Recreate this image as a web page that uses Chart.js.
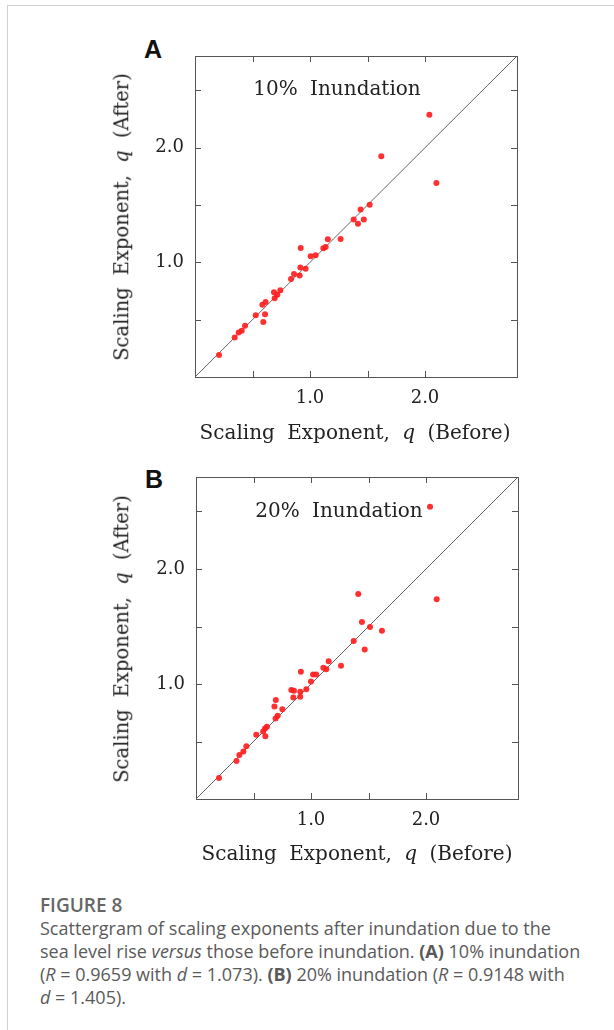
<!DOCTYPE html>
<html>
<head>
<meta charset="utf-8">
<script src="https://cdn.jsdelivr.net/npm/chart.js@4"></script>
<style>
  html, body { margin: 0; padding: 0; background: #fff; }
  #page { position: relative; width: 614px; height: 1030px; overflow: hidden; }
  #frame { position: absolute; left: 7px; top: 5px; width: 640px; height: 1100px;
           border-left: 1.5px solid #d0d0d0; border-top: 1.5px solid #d0d0d0; }
  canvas { position: absolute; left: 0; }
  .panel-tag { position: absolute; font-family: "Liberation Sans", Arial, sans-serif;
               font-weight: bold; font-size: 25px; color: #111; line-height: 1; }
  .serif { position: absolute; font-family: "DejaVu Serif", serif; color: #222;
           white-space: nowrap; line-height: 1; }
  .xtitle { font-size: 20px; word-spacing: 6px; transform: translate(-50%, -50%); }
  .ytitle { font-size: 19.5px; word-spacing: 6px; transform: translate(-50%, -50%) rotate(-90deg); }
  .inset { font-size: 20px; word-spacing: 6px; transform: translate(-50%, -50%); }
  #caption { position: absolute; left: 40px; top: 894px; width: 574px;
             font-family: "Open Sans", "Noto Sans", sans-serif; color: #5a5a5a;
             font-size: 18px; line-height: 23px; white-space: nowrap; }
  #caption .fig { font-weight: 600; font-size: 19px; color: #666; }
</style>
</head>
<body>
<div id="page">
  <div id="frame"></div>

  <div class="panel-tag" style="left:144px; top:37px;">A</div>
  <canvas id="chartA" width="614" height="460" style="top:0"></canvas>
  <div class="serif inset" style="left:337px; top:88px;">10% Inundation</div>
  <div class="serif ytitle" style="left:122px; top:217px;">Scaling Exponent, <i>q</i> (After)</div>
  <div class="serif xtitle" style="left:355px; top:432px;">Scaling Exponent, <i>q</i> (Before)</div>

  <div class="panel-tag" style="left:145px; top:467px;">B</div>
  <canvas id="chartB" width="614" height="440" style="top:440px"></canvas>
  <div class="serif inset" style="left:339px; top:510px;">20% Inundation</div>
  <div class="serif ytitle" style="left:122px; top:639px;">Scaling Exponent, <i>q</i> (After)</div>
  <div class="serif xtitle" style="left:357px; top:853px;">Scaling Exponent, <i>q</i> (Before)</div>

  <div id="caption">
    <div class="fig">FIGURE 8</div>
    Scattergram of scaling exponents after inundation due to the<br>
    sea level rise <i>versus</i> those before inundation. <b>(A)</b> 10% inundation<br>
    (<i>R</i> = 0.9659 with <i>d</i> = 1.073). <b>(B)</b> 20% inundation (<i>R</i> = 0.9148 with<br>
    <i>d</i> = 1.405).
  </div>
</div>

<script>
// =========================================================
// DADOS
// =========================================================

// Painel A - 10% de inundação
const antesA = [0.209, 0.345, 0.38, 0.406, 0.435, 0.528, 0.586, 0.614, 0.609, 0.594,
                0.687, 0.716, 0.693, 0.742, 0.835, 0.861, 0.91, 0.916, 0.919, 0.962,
                1.006, 1.049, 1.116, 1.136, 1.155, 1.266, 1.38, 1.417, 1.44, 1.468,
                1.519, 1.62, 2.038, 2.099];
const depoisA = [0.192, 0.345, 0.389, 0.404, 0.448, 0.538, 0.631, 0.655, 0.547, 0.48,
                 0.739, 0.718, 0.687, 0.757, 0.855, 0.899, 0.886, 0.956, 1.126, 0.944,
                 1.053, 1.062, 1.123, 1.133, 1.202, 1.204, 1.374, 1.336, 1.461, 1.374,
                 1.502, 1.925, 2.287, 1.693];

// Painel B - 20% de inundação
const antesB = [0.2, 0.352, 0.377, 0.412, 0.438, 0.524, 0.584, 0.6, 0.617, 0.603,
                0.682, 0.694, 0.692, 0.71, 0.751, 0.829, 0.852, 0.846, 0.906, 0.907,
                0.912, 0.959, 1.0, 1.018, 1.045, 1.107, 1.133, 1.154, 1.261, 1.371,
                1.467, 1.443, 1.513, 1.617, 1.411, 2.093, 2.035];
const depoisB = [0.183, 0.33, 0.383, 0.412, 0.458, 0.558, 0.588, 0.614, 0.629, 0.545,
                 0.805, 0.861, 0.701, 0.723, 0.78, 0.948, 0.941, 0.883, 0.89, 0.933,
                 1.107, 0.955, 1.022, 1.083, 1.083, 1.142, 1.128, 1.197, 1.159, 1.374,
                 1.299, 1.539, 1.496, 1.464, 1.783, 1.737, 2.542];

// Eixos: mesmo intervalo nos dois painéis, marcas a cada 0.5
const eixoMin = 0;
const eixoMax = 2.8;
const passoMarca = 0.5;
const rotulosMarca = [1.0, 2.0];

// Linha 1:1 de referência
const diagonal = [eixoMin, eixoMax];

// =========================================================
// PLUGIN: moldura + marcas internas nos quatro lados
// =========================================================
const molduraPlugin = {
    id: 'moldura',
    afterDatasetsDraw(chart) {
        const { ctx, chartArea: a, scales } = chart;
        ctx.save();
        ctx.strokeStyle = '#555';
        ctx.lineWidth = 1;
        ctx.strokeRect(a.left + 0.5, a.top + 0.5, a.right - a.left, a.bottom - a.top);

        const len = 6;
        ctx.beginPath();
        scales.x.ticks.forEach(t => {
            if (t.value <= eixoMin) return;
            const px = Math.round(scales.x.getPixelForValue(t.value)) + 0.5;
            ctx.moveTo(px, a.bottom); ctx.lineTo(px, a.bottom - len);
            ctx.moveTo(px, a.top);    ctx.lineTo(px, a.top + len);
        });
        scales.y.ticks.forEach(t => {
            if (t.value <= eixoMin) return;
            const py = Math.round(scales.y.getPixelForValue(t.value)) + 0.5;
            ctx.moveTo(a.left, py);  ctx.lineTo(a.left + len, py);
            ctx.moveTo(a.right, py); ctx.lineTo(a.right - len, py);
        });
        ctx.stroke();
        ctx.restore();
    }
};

function eixo(larguraFixa, alturaFixa) {
    return {
        type: 'linear',
        min: eixoMin,
        max: eixoMax,
        grid: { display: false, drawTicks: false },
        border: { display: false },
        ticks: {
            stepSize: passoMarca,
            padding: 11,
            color: '#222',
            font: { family: "'DejaVu Serif', serif", size: 18 },
            callback: v => rotulosMarca.includes(v) ? v.toFixed(1) : ''
        },
        afterFit: s => {
            if (larguraFixa) s.width = larguraFixa;
            if (alturaFixa) s.height = alturaFixa;
        }
    };
}

/**
 * Monta um painel de dispersão (antes x depois) com a linha 1:1.
 */
function montarPainel(id, antes, depois, padding) {
    const pontos = antes.map((x, i) => ({ x, y: depois[i] }));
    const ctx = document.getElementById(id).getContext('2d');

    return new Chart(ctx, {
        type: 'scatter',
        data: {
            datasets: [
                {
                    type: 'line',
                    data: diagonal.map(v => ({ x: v, y: v })),
                    borderColor: '#666',
                    borderWidth: 1,
                    pointRadius: 0,
                    order: 2
                },
                {
                    data: pontos,
                    backgroundColor: 'rgba(255, 30, 30, 0.92)',
                    borderWidth: 0,
                    pointRadius: 3,
                    order: 1
                }
            ]
        },
        options: {
            responsive: false,
            animation: false,
            layout: { padding },
            plugins: { legend: { display: false }, tooltip: { enabled: false } },
            scales: {
                x: eixo(null, 40),
                y: eixo(60, null)
            }
        },
        plugins: [molduraPlugin]
    });
}

montarPainel('chartA', antesA, depoisA, { left: 135, top: 56, right: 97, bottom: 43 });
montarPainel('chartB', antesB, depoisB, { left: 136, top: 37, right: 96, bottom: 41 });
</script>
</body>
</html>
